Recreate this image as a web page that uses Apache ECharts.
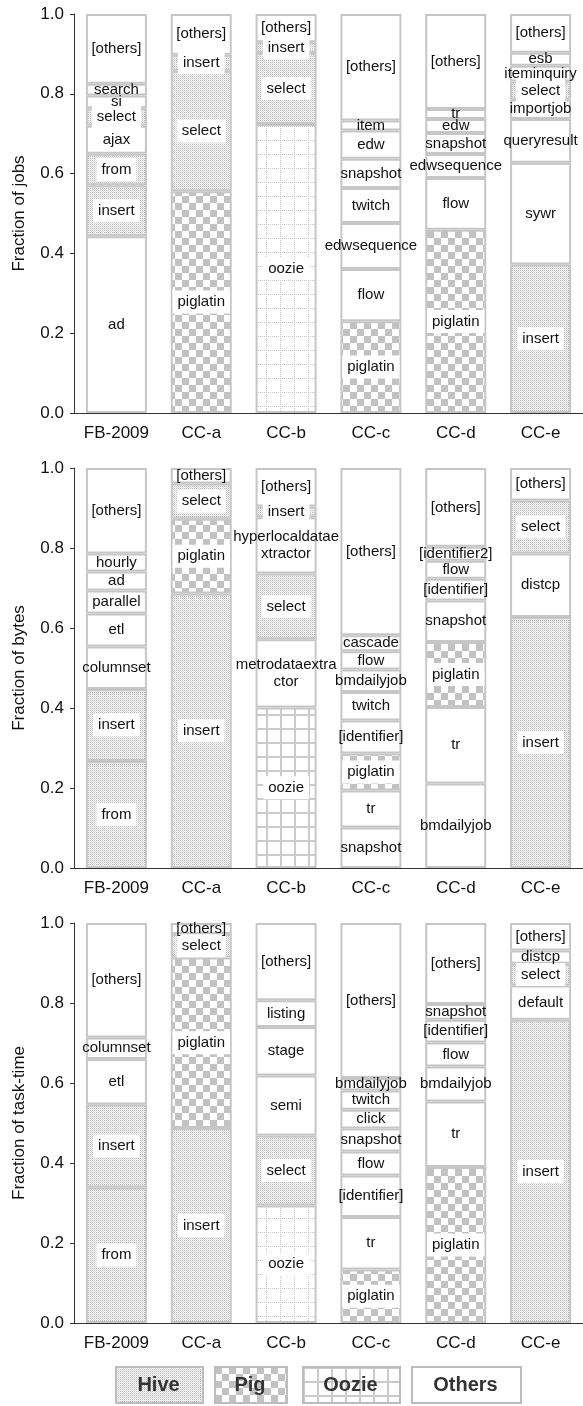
<!DOCTYPE html>
<html><head><meta charset="utf-8">
<script src="https://cdn.jsdelivr.net/npm/echarts@6/dist/echarts.min.js"></script>
<style>html,body{margin:0;padding:0;background:#fff}#c{width:583px;height:1406px}</style>
</head><body><div id="c"></div>
<script>
// ---- DATA ----
const categories = ['FB-2009', 'CC-a', 'CC-b', 'CC-c', 'CC-d', 'CC-e'];
const yAxisNames = ['Fraction of jobs', 'Fraction of bytes', 'Fraction of task-time'];
const legendNames = ['Hive', 'Pig', 'Oozie', 'Others'];
// segments bottom -> top: [label, fraction, framework]  H=Hive P=Pig Z=Oozie O=Others
const jobs_FB2009 = [['ad',0.443,'O'],['insert',0.128,'H'],['from',0.079,'H'],['ajax',0.070,'O'],['select',0.044,'H'],['si',0.032,'O'],['search',0.029,'O'],['[others]',0.175,'O']];
const jobs_CCa = [['piglatin',0.556,'P'],['select',0.302,'H'],['insert',0.040,'H'],['[others]',0.102,'O']];
const jobs_CCb = [['oozie',0.724,'Z'],['select',0.178,'H'],['insert',0.027,'H'],['[others]',0.071,'O']];
const jobs_CCc = [['piglatin',0.230,'P'],['flow',0.131,'O'],['edwsequence',0.115,'O'],['twitch',0.088,'O'],['snapshot',0.073,'O'],['edw',0.071,'O'],['item',0.025,'O'],['[others]',0.267,'O']];
const jobs_CCd = [['piglatin',0.459,'P'],['flow',0.130,'O'],['edwsequence',0.060,'O'],['snapshot',0.053,'O'],['edw',0.035,'O'],['tr',0.025,'O'],['[others]',0.238,'O']];
const jobs_CCe = [['insert',0.372,'H'],['sywr',0.255,'O'],['queryresult',0.110,'O'],['importjob',0.049,'O'],['select',0.045,'H'],['iteminquiry',0.039,'O'],['esb',0.033,'O'],['[others]',0.097,'O']];

const bytes_FB2009 = [['from',0.2675,'H'],['insert',0.180,'H'],['columnset',0.106,'O'],['etl',0.083,'O'],['parallel',0.057,'O'],['ad',0.048,'O'],['hourly',0.045,'O'],['[others]',0.2135,'O']];
const bytes_CCa = [['insert',0.686,'H'],['piglatin',0.187,'P'],['select',0.088,'H'],['[others]',0.039,'O']];
const bytes_CCb = [['oozie',0.401,'Z'],['metrodataextra\nctor',0.171,'O'],['select',0.164,'H'],['hyperlocaldatae\nxtractor',0.141,'O'],['insert',0.027,'H'],['[others]',0.096,'O']];
const bytes_CCc = [['snapshot',0.101,'O'],['tr',0.093,'O'],['piglatin',0.092,'P'],['[identifier]',0.083,'O'],['twitch',0.071,'O'],['bmdailyjob',0.056,'O'],['flow',0.046,'O'],['cascade',0.040,'O'],['[others]',0.418,'O']];
const bytes_CCd = [['bmdailyjob',0.211,'O'],['tr',0.1915,'O'],['piglatin',0.1625,'P'],['snapshot',0.104,'O'],['[identifier]',0.054,'O'],['flow',0.045,'O'],['[identifier2]',0.035,'O'],['[others]',0.197,'O']];
const bytes_CCe = [['insert',0.6275,'H'],['distcp',0.1585,'O'],['select',0.133,'H'],['[others]',0.081,'O']];

const time_FB2009 = [['from',0.339,'H'],['insert',0.207,'H'],['etl',0.114,'O'],['columnset',0.054,'O'],['[others]',0.286,'O']];
const time_CCa = [['insert',0.4875,'H'],['piglatin',0.4265,'P'],['select',0.0585,'H'],['[others]',0.0275,'O']];
const time_CCb = [['oozie',0.294,'Z'],['select',0.175,'H'],['semi',0.150,'O'],['stage',0.121,'O'],['listing',0.067,'O'],['[others]',0.193,'O']];
const time_CCc = [['piglatin',0.1335,'P'],['tr',0.1315,'O'],['[identifier]',0.104,'O'],['flow',0.060,'O'],['snapshot',0.057,'O'],['click',0.047,'O'],['twitch',0.048,'O'],['bmdailyjob',0.0315,'O'],['[others]',0.3875,'O']];
const time_CCd = [['piglatin',0.390,'P'],['tr',0.164,'O'],['bmdailyjob',0.0875,'O'],['flow',0.060,'O'],['[identifier]',0.0565,'O'],['snapshot',0.0395,'O'],['[others]',0.2025,'O']];
const time_CCe = [['insert',0.758,'H'],['default',0.086,'O'],['select',0.054,'H'],['distcp',0.033,'O'],['[others]',0.069,'O']];

const panels = [
  [jobs_FB2009, jobs_CCa, jobs_CCb, jobs_CCc, jobs_CCd, jobs_CCe],
  [bytes_FB2009, bytes_CCa, bytes_CCb, bytes_CCc, bytes_CCd, bytes_CCe],
  [time_FB2009, time_CCa, time_CCb, time_CCc, time_CCd, time_CCe]
];

// ---- PATTERNS ----
function tile(w, h, fn) {
  const c = document.createElement('canvas'); c.width = w; c.height = h;
  const x = c.getContext('2d'); x.fillStyle = '#fff'; x.fillRect(0, 0, w, h); fn(x); return c;
}
const hiveImg = tile(2, 2, x => { x.fillStyle = '#b5b5b5'; x.fillRect(0, 0, 1, 1); x.fillStyle = '#dadada'; x.fillRect(1, 1, 1, 1); });
const pigImg = tile(14, 14, x => { x.fillStyle = '#c2c2c2'; x.fillRect(0, 0, 7, 7); x.fillRect(7, 7, 7, 7); });
const ozDotImg = tile(14, 14, x => { x.fillStyle = '#c4c4c4'; for (let i = 0; i < 14; i += 2) { x.fillRect(0, i, 1, 1); x.fillRect(i, 0, 1, 1); } });
const ozSolidImg = tile(14, 14, x => { x.fillStyle = '#cacaca'; x.fillRect(0, 0, 2, 14); x.fillRect(0, 0, 14, 2); });
const pat = img => ({ image: img, repeat: 'repeat' });
function fillFor(kind, panel) {
  if (kind === 'H') return pat(hiveImg);
  if (kind === 'P') return pat(pigImg);
  if (kind === 'Z') return pat(panel === 1 ? ozSolidImg : ozDotImg);
  return '#ffffff';
}

// ---- LAYOUT ----
const gridTops = [14, 468, 923];
const gridHeights = [399, 400, 400];
const txt = '#111';
const font = 'Liberation Sans, Arial, sans-serif';

const grids = [], xAxes = [], yAxes = [], series = [];
panels.forEach((bars, gi) => {
  grids.push({ left: 74, width: 510, top: gridTops[gi], height: gridHeights[gi] });
  xAxes.push({
    type: 'category', gridIndex: gi, data: categories,
    axisLine: { lineStyle: { color: '#333', width: 1 } },
    axisTick: { length: 4, lineStyle: { color: '#333' } },
    axisLabel: { fontSize: 17, color: txt, fontFamily: font, margin: 12 }
  });
  yAxes.push({
    type: 'value', gridIndex: gi, min: 0, max: 1, interval: 0.2,
    name: yAxisNames[gi], nameLocation: 'middle', nameGap: 46,
    nameTextStyle: { fontSize: 17, color: txt, fontFamily: font },
    axisLine: { show: true, lineStyle: { color: '#333', width: 1 } },
    axisTick: { show: true, length: 4, lineStyle: { color: '#333' } },
    splitLine: { show: false },
    axisLabel: { fontSize: 17, color: txt, fontFamily: font, margin: 10, formatter: v => v.toFixed(1) }
  });
  const maxLen = Math.max(...bars.map(b => b.length));
  for (let k = 0; k < maxLen; k++) {
    series.push({
      type: 'bar', xAxisIndex: gi, yAxisIndex: gi, stack: 'st' + gi, barWidth: 61, silent: true,
      animation: false,
      itemStyle: { borderColor: '#c6c6c6', borderWidth: 2 },
      label: { show: true, position: 'inside', fontSize: 15, fontFamily: font, color: txt, lineHeight: 17 },
      data: bars.map(b => {
        const s = b[k];
        if (!s) return '-';
        return {
          value: s[1],
          itemStyle: { color: fillFor(s[2], gi) },
          label: {
            formatter: s[0],
            backgroundColor: s[2] === 'O' ? 'transparent' : '#ffffff',
            padding: s[2] === 'O' ? 0 : [3, 5]
          }
        };
      })
    });
  }
});

// ---- LEGEND (graphic boxes) ----
const legendBoxes = [
  { x: 115, w: 87, kind: 'H' }, { x: 214, w: 72, kind: 'P' },
  { x: 302, w: 97, kind: 'Z' }, { x: 411, w: 109, kind: 'O' }
];
const graphic = [];
legendBoxes.forEach((b, i) => {
  graphic.push({ type: 'rect', left: b.x, top: 1366, shape: { width: b.w, height: 36 },
    style: { fill: fillFor(b.kind, 1), stroke: '#bdbdbd', lineWidth: 2 }, silent: true });
  graphic.push({ type: 'text', x: b.x + b.w / 2, y: 1385, silent: true,
    style: { text: legendNames[i], fill: '#333', font: 'bold 20px ' + font, textAlign: 'center', textVerticalAlign: 'middle' } });
});

const chart = echarts.init(document.getElementById('c'), null, { renderer: 'canvas' });
chart.setOption({
  backgroundColor: '#fff', animation: false,
  grid: grids, xAxis: xAxes, yAxis: yAxes, series: series, graphic: graphic
});
</script></body></html>
